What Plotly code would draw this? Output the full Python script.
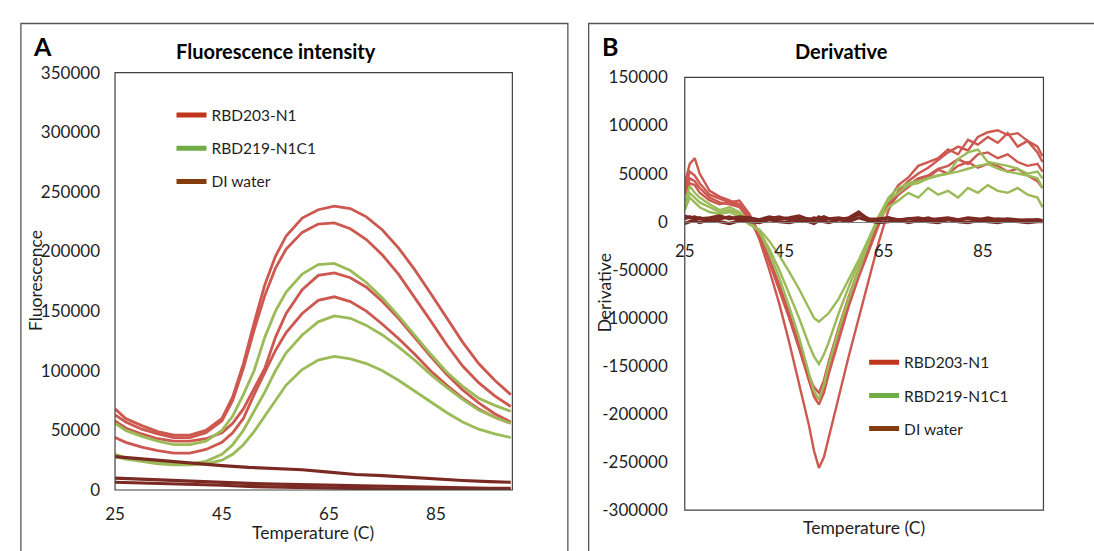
import plotly.graph_objects as go

W, H = 1094, 551

# ---------------- Panel A : fluorescence intensity (values in thousands) ----------------
T_A = [25, 27, 30, 33, 36, 39, 42, 45, 47, 49, 51, 53, 55, 57, 60, 63, 66, 69, 72, 75, 78, 81, 84, 87, 90, 93, 96, 99]
red_A = [
    [68, 60, 54, 49, 46, 46, 50, 60, 78, 106, 140, 172, 196, 213, 228, 235, 238, 236, 229, 218, 203, 185, 165, 144, 124, 106, 92, 80],
    [63, 57, 51, 47, 44, 44, 48, 58, 75, 102, 134, 163, 186, 202, 216, 223, 224, 219, 210, 197, 181, 162, 142, 122, 104, 90, 79, 70],
    [58, 52, 47, 43, 41, 41, 43, 48, 56, 68, 85, 102, 128, 148, 168, 180, 182, 178, 170, 158, 144, 128, 112, 97, 84, 73, 64, 57],
    [44, 40, 36, 33, 31, 31, 34, 40, 48, 60, 80, 98, 117, 132, 148, 159, 162, 158, 150, 139, 127, 114, 100, 88, 77, 68, 61, 56],
]
green_A = [
    [56, 50, 45, 41, 38, 38, 41, 50, 62, 80, 100, 128, 150, 166, 181, 189, 190, 184, 174, 161, 146, 130, 114, 99, 87, 77, 71, 66],
    [30, 27, 25, 23, 22, 22, 24, 30, 38, 50, 66, 82, 100, 115, 130, 141, 146, 144, 138, 130, 120, 109, 97, 86, 76, 67, 61, 56],
    [28, 26, 24, 22, 21, 21, 22, 25, 30, 38, 49, 62, 75, 88, 101, 109, 112, 110, 106, 100, 92, 83, 74, 65, 57, 51, 47, 44],
]
T_DI_A = [25, 30, 35, 40, 45, 50, 55, 60, 65, 70, 75, 80, 85, 90, 95, 99]
water_A = [
    [28, 26, 24, 22, 20.5, 19, 18, 17, 15, 13, 12, 10.5, 9, 8, 7, 6.5],
    [10, 9, 8, 7, 6, 5.5, 5, 4.5, 4, 3.5, 3, 2.5, 2, 2, 1.5, 1.5],
    [6.5, 6, 5, 4.5, 4, 3, 2.5, 2, 1.5, 1, 1, 0.5, 0.5, 0, 0, 0],
]

# ---------------- Panel B : derivative (values in thousands) ----------------
T_B = [25, 26, 27, 28, 30, 32, 34, 36, 38, 40, 42, 44, 46, 48, 50, 51, 52, 53, 54, 56, 58,
       60, 62, 64, 66, 68, 70, 72, 74, 76, 78, 80, 82, 84, 86, 88, 90, 92, 94, 96, 97]
red_B = [
    [40, 60, 66, 50, 32, 26, 22, 18, 5, -18, -50, -85, -125, -168, -212, -238, -256, -245, -225, -182, -140,
     -100, -60, -22, 12, 32, 42, 50, 56, 64, 72, 78, 74, 88, 93, 95, 90, 92, 84, 78, 68],
    [35, 52, 48, 40, 28, 24, 20, 22, 8, -12, -38, -65, -95, -128, -165, -182, -190, -178, -158, -122, -88,
     -58, -30, -4, 22, 38, 46, 58, 62, 66, 75, 70, 85, 80, 88, 82, 92, 78, 84, 72, 62],
    [30, 45, 42, 35, 25, 20, 18, 15, 3, -15, -42, -70, -100, -132, -165, -178, -185, -172, -150, -115, -82,
     -52, -25, 0, 18, 30, 38, 45, 48, 55, 58, 65, 60, 70, 72, 66, 70, 62, 58, 60, 52],
    [28, 40, 38, 30, 22, 18, 20, 16, 2, -14, -40, -68, -98, -130, -160, -172, -178, -165, -145, -110, -78,
     -50, -22, 2, 15, 28, 36, 44, 46, 54, 50, 58, 62, 56, 60, 58, 52, 55, 48, 42, 35],
]
green_B = [
    [20, 37, 30, 25, 18, 12, 15, 10, 0, -10, -32, -58, -88, -120, -158, -176, -185, -170, -148, -112, -80,
     -50, -22, 5, 25, 35, 40, 42, 45, 48, 50, 65, 72, 75, 62, 60, 58, 55, 50, 52, 45],
    [15, 30, 25, 20, 15, 10, 12, 8, -2, -10, -28, -50, -75, -100, -128, -140, -148, -138, -125, -95, -68,
     -42, -18, 5, 22, 30, 38, 40, 45, 48, 50, 52, 55, 58, 60, 55, 52, 50, 48, 45, 35],
    [12, 25, 20, 15, 10, 8, 10, 5, -3, -8, -20, -35, -52, -70, -90, -100, -104, -99, -95, -80, -60,
     -40, -18, 2, 15, 22, 30, 25, 35, 28, 32, 25, 35, 30, 38, 32, 30, 35, 28, 25, 15],
]
water_B = [
    [3, 5, 2, 4, 1, 3, 5, 2, 4, 1, 3, 5, 2, 4, 3, 1, 5, 2, 3, 4, 2, 8, 3, 2, 4, 1, 3, 2, 4, 1, 3, 2, 4, 3, 1, 3, 2, 1, 2, 1, 1],
    [-2, 0, 1, -1, 2, 0, -2, 1, 0, -1, 2, 0, -1, 1, 0, -2, 1, 0, -1, 2, 0, 4, 1, -1, 0, 2, -1, 1, 0, -1, 2, 0, -1, 1, 0, -1, 1, 0, -1, 0, 0],
    [6, 4, 5, 3, 4, 6, 3, 5, 4, 2, 5, 3, 4, 6, 2, 4, 3, 5, 3, 2, 4, 10, 2, 3, 4, 2, 3, 4, 2, 3, 4, 2, 3, 2, 4, 2, 3, 2, 1, 2, 1],
]

series_names = ["RBD203-N1", "RBD219-N1C1", "DI water"]
x_ticks = [25, 45, 65, 85]
yA_ticks = [0, 50000, 100000, 150000, 200000, 250000, 300000, 350000]
yB_ticks = [-300000, -250000, -200000, -150000, -100000, -50000, 0, 50000, 100000, 150000]

# ---------------- styling ----------------
RED, GREEN, WATER = "#CD5850", "#9BBB59", "#7A2A22"
LEG_COLORS = ["#C0361C", "#70AD47", "#843C0C"]
FONT = "Lato"
TXT = "#1f1f1f"


def k(vals):
    return [v * 1000 for v in vals]


fig = go.Figure()

for ys in red_A:
    fig.add_trace(go.Scatter(x=T_A, y=k(ys), mode="lines", line=dict(color=RED, width=2.8),
                             showlegend=False, xaxis="x", yaxis="y", hoverinfo="skip"))
for ys in green_A:
    fig.add_trace(go.Scatter(x=T_A, y=k(ys), mode="lines", line=dict(color=GREEN, width=2.8),
                             showlegend=False, xaxis="x", yaxis="y", hoverinfo="skip"))
for ys in water_A:
    fig.add_trace(go.Scatter(x=T_DI_A, y=k(ys), mode="lines", line=dict(color=WATER, width=3.2),
                             showlegend=False, xaxis="x", yaxis="y", hoverinfo="skip"))

for ys in red_B:
    fig.add_trace(go.Scatter(x=T_B, y=k(ys), mode="lines", line=dict(color=RED, width=2.4),
                             showlegend=False, xaxis="x2", yaxis="y2", hoverinfo="skip"))
for ys in green_B:
    fig.add_trace(go.Scatter(x=T_B, y=k(ys), mode="lines", line=dict(color=GREEN, width=2.4),
                             showlegend=False, xaxis="x2", yaxis="y2", hoverinfo="skip"))
for ys in water_B:
    fig.add_trace(go.Scatter(x=T_B, y=k(ys), mode="lines", line=dict(color=WATER, width=3.2),
                             showlegend=False, xaxis="x2", yaxis="y2", hoverinfo="skip"))

# legend entries (one legend per panel)
for leg, xa, ya in (("legend", "x", "y"), ("legend2", "x2", "y2")):
    for i, (nm, c) in enumerate(zip(series_names, LEG_COLORS)):
        fig.add_trace(go.Scatter(x=[None], y=[None], mode="lines", line=dict(color=c, width=5),
                                 name=nm, legend=leg, legendgroup=f"{leg}{i}",
                                 xaxis=xa, yaxis=ya))

# ---------------- layout ----------------
def py(p):
    return 1 - p / H


tickfont = dict(family=FONT, size=17, color=TXT)
yA_dom = [py(498), py(64)]
yB_dom = [py(519), py(69)]
zero_pos = yB_dom[0] + (0 - (-300000)) / 450000 * (yB_dom[1] - yB_dom[0])

legend_style = dict(xanchor="left", yanchor="top", bgcolor="rgba(0,0,0,0)",
                    font=dict(family=FONT, size=15.5, color=TXT), tracegroupgap=10, itemwidth=30)

fig.update_layout(
    width=W, height=H, margin=dict(l=0, r=0, t=0, b=0),
    paper_bgcolor="white", plot_bgcolor="white",
    font=dict(family=FONT, color=TXT),
    xaxis=dict(domain=[106 / W, 507 / W], range=[25, 99.3], anchor="y",
               tickvals=x_ticks, ticktext=[str(v) for v in x_ticks], tickfont=tickfont,
               showgrid=False, zeroline=False, showline=False, ticks="", ticklabelstandoff=12),
    yaxis=dict(domain=yA_dom, range=[0, 350000], anchor="x",
               tickvals=yA_ticks, ticktext=[str(v) for v in yA_ticks], tickfont=tickfont,
               showgrid=False, zeroline=False, showline=False, ticks="", ticklabelstandoff=14),
    xaxis2=dict(domain=[681 / W, 1043 / W], range=[25, 97.2], anchor="free", position=zero_pos,
                tickvals=x_ticks, ticktext=[str(v) for v in x_ticks], tickfont=tickfont,
                showgrid=False, zeroline=False, showline=True, linecolor="#7f7f7f", linewidth=1,
                ticks="", ticklabelstandoff=14),
    yaxis2=dict(domain=yB_dom, range=[-300000, 150000], anchor="x2",
                tickvals=yB_ticks, ticktext=[str(v) for v in yB_ticks], tickfont=tickfont,
                showgrid=False, zeroline=False, showline=False, ticks="", ticklabelstandoff=16),
    legend=dict(x=163 / W, y=py(91), **legend_style),
    legend2=dict(x=862 / W, y=py(348), **legend_style),
)

# frames
shapes = [
    dict(type="rect", xref="paper", yref="paper", x0=11 / W, x1=563 / W, y0=py(13), y1=py(620),
         line=dict(color="#555555", width=1.3), layer="below"),
    dict(type="rect", xref="paper", yref="paper", x0=584 / W, x1=1.1, y0=py(13), y1=py(620),
         line=dict(color="#555555", width=1.3), layer="below"),
    dict(type="rect", xref="x domain", yref="y domain", x0=0, x1=1, y0=0, y1=1,
         line=dict(color="#404040", width=1.2)),
    dict(type="rect", xref="x2 domain", yref="y2 domain", x0=0, x1=1, y0=0, y1=1,
         line=dict(color="#404040", width=1.2)),
]
fig.update_layout(shapes=shapes)

ann = [
    dict(text="<b>A</b>", x=33 / W, y=py(36), font=dict(family=FONT, size=25, color="black")),
    dict(text="<b>B</b>", x=606 / W, y=py(36), font=dict(family=FONT, size=25, color="black")),
    dict(text="<b>Fluorescence intensity</b>", x=268 / W, y=py(42), font=dict(family=FONT, size=20, color="black")),
    dict(text="<b>Derivative</b>", x=839 / W, y=py(42), font=dict(family=FONT, size=20, color="black")),
    dict(text="Temperature (C)", x=306 / W, y=py(542), font=dict(family=FONT, size=17.5, color=TXT)),
    dict(text="Temperature (C)", x=862 / W, y=py(537), font=dict(family=FONT, size=17.5, color=TXT)),
    dict(text="Fluorescence", x=26 / W, y=py(280), textangle=-90, font=dict(family=FONT, size=17.5, color=TXT)),
    dict(text="Derivative", x=600 / W, y=py(293), textangle=-90, font=dict(family=FONT, size=17.5, color=TXT)),
]
for a in ann:
    a.update(xref="paper", yref="paper", showarrow=False, xanchor="center", yanchor="middle")
fig.update_layout(annotations=ann)

fig.write_html("out.html", config={"displayModeBar": False},
               post_script="document.body.style.margin='0px';")
